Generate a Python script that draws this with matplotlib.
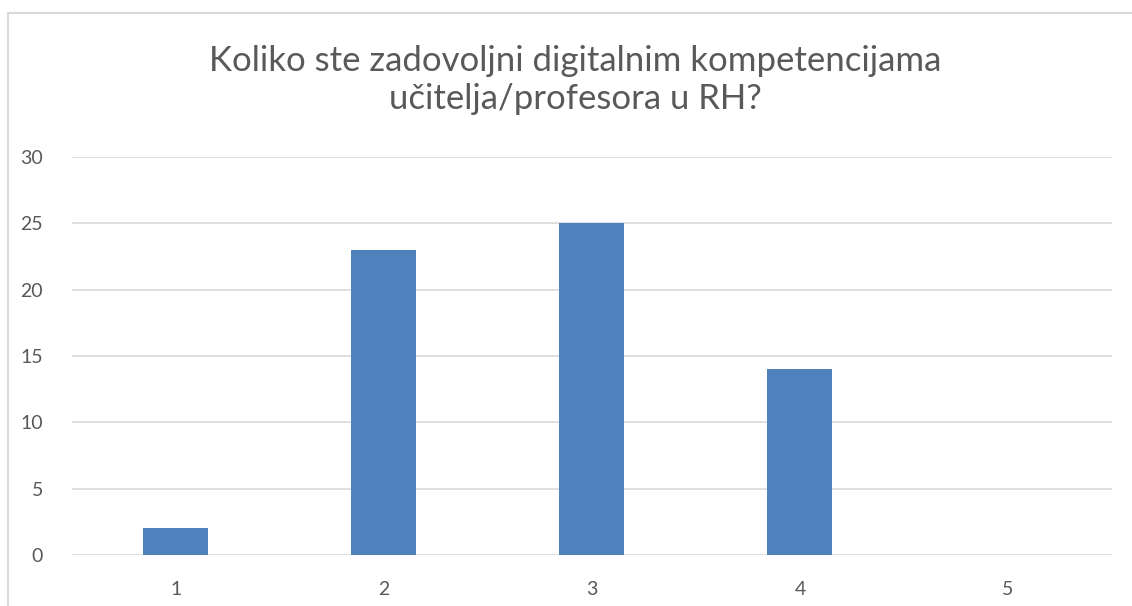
import matplotlib.pyplot as plt
from matplotlib.patches import Rectangle

# Dados do gráfico
kategorije = ["1", "2", "3", "4", "5"]
odgovori = [2, 23, 25, 14, 0]
y_oznake = [0, 5, 10, 15, 20, 25, 30]

naslov = "Koliko ste zadovoljni digitalnim kompetencijama\nučitelja/profesora u RH?"

plt.rcParams["font.family"] = ["Lato", "DejaVu Sans"]

fig = plt.figure(figsize=(11.32, 6.06), dpi=100)
ax = fig.add_axes([0.0636, 0.0842, 0.9187, 0.6568])

x = range(1, len(kategorije) + 1)
ax.bar(x, odgovori, width=0.3125, color="#4f81bd", zorder=2)

ax.set_xlim(0.5, 5.5)
ax.set_ylim(0, 30)
ax.set_yticks(y_oznake)
ax.set_xticks(list(x))
ax.set_xticklabels(kategorije)
ax.grid(axis="y", color="#d9d9d9", linewidth=1.2, zorder=0)
for s in ax.spines.values():
    s.set_visible(False)
ax.tick_params(length=0, labelsize=14, colors="#595959")
ax.tick_params(axis="y", pad=21)
ax.tick_params(axis="x", pad=19)

fig.text(0.508, 0.868, naslov, ha="center", va="center", fontsize=25,
         color="#595959", linespacing=1.25)

# Okvir grafikona
fig.patches.append(Rectangle((8 / 1132, -0.1), 1.2, (606 - 13) / 606 + 0.1,
                             transform=fig.transFigure, fill=False,
                             edgecolor="#d9d9d9", linewidth=1.5))

fig.savefig("out.png", dpi=100)
